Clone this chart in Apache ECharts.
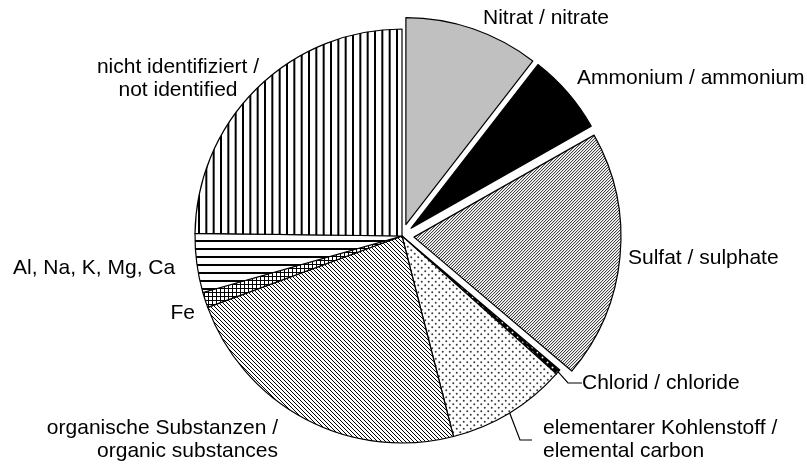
<!DOCTYPE html>
<html>
<head>
<meta charset="utf-8">
<script src="https://cdn.jsdelivr.net/npm/echarts@6/dist/echarts.min.js"></script>
<style>html,body{margin:0;padding:0;background:#fff}#c{width:807px;height:464px}</style>
</head>
<body>
<div id="c"></div>
<script>
// ---- data ----
const categories = [
  'Nitrat / nitrate',
  'Ammonium / ammonium',
  'Sulfat / sulphate',
  'Chlorid / chloride',
  'elementarer Kohlenstoff /\nelemental carbon',
  'organische Substanzen /\norganic substances',
  'Fe',
  'Al, Na, K, Mg, Ca',
  'nicht identifiziert /\nnot identified'
];
const values = [10.5, 6.3, 19.4, 0.4, 9.4, 23.4, 1.2, 4.6, 24.8];
const exploded = [true, true, true, false, false, false, false, false, false];

// ---- label placement (layout) ----
const labelPos = [
  {x: 483, y: 18, align: 'left'},
  {x: 577, y: 78, align: 'left'},
  {x: 628, y: 258, align: 'left'},
  {x: 582, y: 383, align: 'left'},
  {x: 532, y: 440, align: 'left'},
  {x: 278, y: 440, align: 'right'},
  {x: 195, y: 313, align: 'right'},
  {x: 13, y: 268, align: 'left'},
  {x: 178, y: 79, align: 'center'}
];
const leader = [null, null, null, 14, 12, null, null, null, null];
const labelPadLeft = [0, 0, 0, 0, 11, 0, 0, 0, 0];

// ---- fill patterns ----
function pat(w, h, draw) {
  const c = document.createElement('canvas');
  c.width = w; c.height = h;
  const ctx = c.getContext('2d');
  ctx.fillStyle = '#fff'; ctx.fillRect(0, 0, w, h);
  draw(ctx, w, h);
  return {image: c, repeat: 'repeat'};
}
function diag(s, lw, forward) {
  return pat(s, s, (ctx) => {
    ctx.strokeStyle = '#000'; ctx.lineWidth = lw;
    ctx.beginPath();
    for (let k = -1; k <= 1; k++) {
      if (forward) { ctx.moveTo(k * s, s); ctx.lineTo(k * s + s, 0); }
      else { ctx.moveTo(k * s, 0); ctx.lineTo(k * s + s, s); }
    }
    ctx.stroke();
  });
}
function dot(ctx, x, y, r) { ctx.moveTo(x + r, y); ctx.arc(x, y, r, 0, Math.PI * 2); }
const fills = [
  '#c0c0c0',
  '#000000',
  diag(3, 0.9, true),
  pat(5, 5, (ctx) => { ctx.fillStyle = '#000'; ctx.fillRect(0, 0, 5, 5); ctx.fillStyle = '#fff'; ctx.beginPath(); dot(ctx, 2.5, 2.5, 1); ctx.fill(); }),
  pat(7, 7, (ctx) => { ctx.fillStyle = '#3a3a3a'; ctx.beginPath(); dot(ctx, 1.75, 1.75, 1); dot(ctx, 5.25, 5.25, 1); ctx.fill(); }),
  diag(4, 1, false),
  pat(4, 4, (ctx) => { ctx.fillStyle = '#000'; ctx.fillRect(0, 0, 4, 1); ctx.fillRect(0, 0, 1, 4); }),
  pat(8, 8, (ctx) => { ctx.fillStyle = '#000'; ctx.fillRect(0, 0, 8, 2); }),
  pat(22, 8, (ctx) => { ctx.fillStyle = '#000'; [0, 7.33, 14.67].forEach(x => ctx.fillRect(x, 0, 2, 8)); })
];

const pieGeom = {center: [402, 236], radius: 207, startAngle: 90, clockwise: true};

const chart = echarts.init(document.getElementById('c'), null, {renderer: 'canvas'});
chart.setOption({
  animation: false,
  backgroundColor: '#fff',
  series: [
    Object.assign({
      type: 'pie',
      avoidLabelOverlap: false,
      selectedMode: 'multiple',
      selectedOffset: 12,
      silent: true,
      itemStyle: {borderColor: '#000', borderWidth: 1.2},
      label: {show: false},
      labelLine: {show: false},
      data: categories.map((name, i) => ({
        name: name,
        value: values[i],
        selected: exploded[i],
        itemStyle: {color: fills[i]},
        select: {itemStyle: {color: fills[i], borderColor: '#000', borderWidth: 1.2}}
      }))
    }, pieGeom),
    Object.assign({
      type: 'pie',
      z: 3,
      avoidLabelOverlap: false,
      silent: true,
      itemStyle: {color: 'rgba(0,0,0,0)', borderWidth: 0},
      label: {
        show: true,
        position: 'outside',
        color: '#000',
        fontFamily: 'Liberation Sans, Arial, sans-serif',
        fontSize: 21,
        lineHeight: 23
      },
      labelLine: {show: false},
      labelLayout: function (p) {
        const lp = labelPos[p.dataIndex];
        return {x: lp.x, y: lp.y, align: lp.align, verticalAlign: 'middle'};
      },
      data: categories.map((name, i) => ({
        name: name,
        value: values[i],
        label: {align: labelPos[i].align, padding: [0, 0, 0, labelPadLeft[i]]},
        labelLine: leader[i] != null
          ? {show: true, length: 0, length2: leader[i], smooth: false, lineStyle: {color: '#000', width: 1.2}}
          : {show: false}
      }))
    }, pieGeom)
  ]
});
</script>
</body>
</html>
